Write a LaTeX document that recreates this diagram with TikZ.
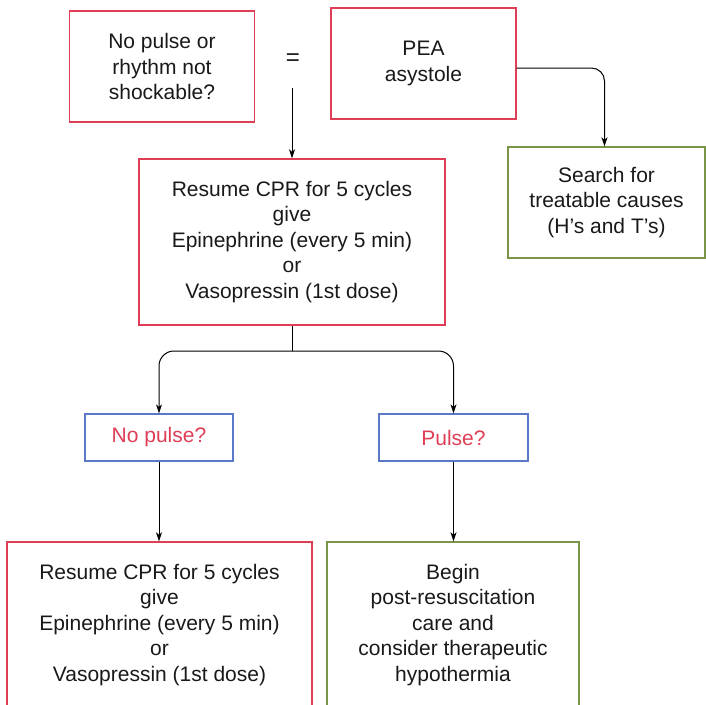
\documentclass[tikz,border=0pt]{standalone}
\usepackage{fontspec}
\setmainfont{Liberation Sans}
\usetikzlibrary{arrows.meta}
\definecolor{boxred}{RGB}{222,62,86}
\definecolor{boxgreen}{RGB}{122,148,72}
\definecolor{boxblue}{RGB}{92,120,200}
\definecolor{ink}{RGB}{25,25,25}
\begin{document}
\begin{tikzpicture}[x=1pt,y=-1pt,
  every node/.style={font=\fontsize{21}{25.5}\selectfont, text=ink, align=center, inner sep=0pt},
  redbox/.style={draw=boxred, line width=1.4pt, rectangle},
  greenbox/.style={draw=boxgreen, line width=1.4pt, rectangle},
  bluebox/.style={draw=boxblue, line width=1.2pt, rectangle},
  flow/.style={draw=black, line width=1pt, -{Stealth[length=9pt,width=6pt,inset=2.5pt]}},
  link/.style={draw=black, line width=1pt}]
\useasboundingbox (0,0) rectangle (706,704);

% top row
\node[redbox, minimum width=185pt, minimum height=111pt] (noshock) at (162,66.5)
  {No pulse or\\rhythm not\\shockable?};
\node[font=\fontsize{24}{26}\selectfont] (eq) at (293,60) {=};
\node[redbox, minimum width=185pt, minimum height=111pt] (pea) at (423.5,63.5)
  {PEA\\asystole};
\node[greenbox, minimum width=197pt, minimum height=111pt] (causes) at (606.5,202.5)
  {Search for\\treatable causes\\(H’s and T’s)};

% CPR block
\node[redbox, minimum width=306pt, minimum height=166pt] (cpr) at (292,242)
  {Resume CPR for 5 cycles\\give\\Epinephrine (every 5 min)\\or\\Vasopressin (1st dose)};

% pulse checks
\node[bluebox, minimum width=148pt, minimum height=47pt, text=boxred] (nopulse) at (159,437.5) {No pulse?};
\node[bluebox, minimum width=149pt, minimum height=47pt, text=boxred] (pulse) at (453.5,437.5) {Pulse?};

% outcomes
\node[redbox, minimum width=305pt, minimum height=166pt] (cpragain) at (159.5,625)
  {Resume CPR for 5 cycles\\give\\Epinephrine (every 5 min)\\or\\Vasopressin (1st dose)};
\node[greenbox, minimum width=252pt, minimum height=166pt] (post) at (453,625)
  {Begin\\post-resuscitation\\care and\\consider therapeutic\\hypothermia};

% connectors
\coordinate (start) at (292,88);
\coordinate (hub) at (292,351);
\draw[flow] (start) -- (cpr.north);
\draw[flow, rounded corners=13pt] ([yshift=-4.5pt]pea.east) -| ([xshift=-2pt]causes.north);
\draw[link] (cpr.south) -- (hub);
\draw[flow, rounded corners=15pt] (hub) -| (nopulse.north);
\draw[flow, rounded corners=15pt] (hub) -| (pulse.north);
\draw[flow] (nopulse.south) -- (nopulse.south |- cpragain.north);
\draw[flow] (pulse.south) -- (pulse.south |- post.north);
\end{tikzpicture}
\end{document}
